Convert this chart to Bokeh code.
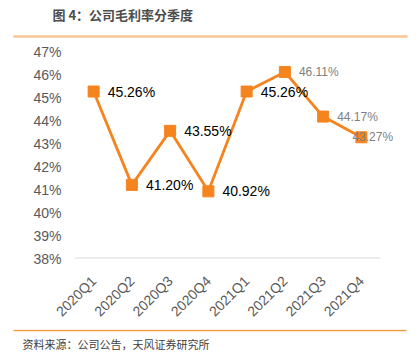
from bokeh.plotting import figure
from bokeh.models import ColumnDataSource, LabelSet, Range1d, FixedTicker, CustomJSTickFormatter
from bokeh.embed import file_html
from bokeh.resources import INLINE
from bokeh.core.properties import value
from math import pi

quarters = ["2020Q1", "2020Q2", "2020Q3", "2020Q4", "2021Q1", "2021Q2", "2021Q3", "2021Q4"]
gross_margin = [45.26, 41.20, 43.55, 40.92, 45.26, 46.11, 44.17, 43.27]
y_ticks = [38, 39, 40, 41, 42, 43, 44, 45, 46, 47]
title_text = "图 4：公司毛利率分季度"
source_text = "资料来源：公司公告，天风证券研究所"

ORANGE = "#F5841F"
NUM_FONT = "Liberation Sans"
CJK_FONT = "Noto Sans CJK SC"
W = 416

# positions of the categories on a numeric scale (one unit per quarter)
xpos = [i + 0.5 for i in range(len(quarters))]

# ---------- header ----------
head = figure(width=W, height=40, x_range=Range1d(0, W), y_range=Range1d(40, 0),
              output_backend="svg", toolbar_location=None, min_border=0,
              x_axis_location=None, y_axis_location=None)
head.grid.visible = False
head.outline_line_color = None
head.text(x=[52], y=[14], text=[title_text], text_font=value(CJK_FONT), text_font_style="bold",
          text_font_size="13px", text_color="#4D4D4D", text_baseline="middle", text_align="left")
head.segment(x0=[13], x1=[407], y0=[36], y1=[36], line_color="#F9C595", line_width=2.5)

# ---------- main chart ----------
p = figure(width=W, height=289, x_range=Range1d(0, 330 / 38.25), y_range=Range1d(38, 47),
           output_backend="svg", toolbar_location=None,
           min_border_left=74, min_border_right=12, min_border_top=11, min_border_bottom=71)
p.outline_line_color = None
p.xgrid.grid_line_color = None
p.ygrid.grid_line_color = None

# baseline of the category axis
p.segment(x0=[0], x1=[len(quarters)], y0=[y_ticks[0]], y1=[y_ticks[0]], line_color="#D9D9D9", line_width=2)

p.line(xpos, gross_margin, line_color=ORANGE, line_width=2.8)
p.scatter(xpos, gross_margin, marker="square", size=11, fill_color=ORANGE, line_color=ORANGE)

# y axis
p.yaxis.ticker = FixedTicker(ticks=y_ticks)
p.yaxis.formatter = CustomJSTickFormatter(code="return tick.toFixed(0) + '%';")
p.yaxis.axis_line_color = None
p.yaxis.major_tick_line_color = None
p.yaxis.minor_tick_line_color = None
p.yaxis.major_tick_out = 0
p.yaxis.major_tick_in = 0
p.yaxis.major_label_text_font = NUM_FONT
p.yaxis.major_label_text_font_size = "14px"
p.yaxis.major_label_text_color = "#595959"
p.yaxis.major_label_standoff = 13

# x axis
p.xaxis.ticker = FixedTicker(ticks=xpos)
p.xaxis.major_label_overrides = {x: q for x, q in zip(xpos, quarters)}
p.xaxis.axis_line_color = None
p.xaxis.major_tick_line_color = None
p.xaxis.minor_tick_line_color = None
p.xaxis.major_tick_out = 0
p.xaxis.major_tick_in = 0
p.xaxis.major_label_orientation = pi / 4
p.xaxis.major_label_text_font = NUM_FONT
p.xaxis.major_label_text_font_size = "14px"
p.xaxis.major_label_text_color = "#595959"
p.xaxis.major_label_standoff = 20

# data labels
label_colors = ["#000000"] * 5 + ["#808080"] * 3
label_sizes = ["14px"] * 5 + ["12px"] * 3
label_dx = [14, 14, 14, 14, 14, 14, 14, -9]
lsrc = ColumnDataSource(dict(x=xpos, y=gross_margin,
                             text=[f"{v:.2f}%" for v in gross_margin],
                             color=label_colors, size=label_sizes, dx=label_dx))
p.add_layout(LabelSet(x="x", y="y", text="text", source=lsrc, x_offset="dx",
                      text_baseline="middle", text_align="left", text_color="color",
                      text_font_size="size", text_font=value(NUM_FONT)))

# ---------- footer ----------
foot = figure(width=W, height=28, x_range=Range1d(0, W), y_range=Range1d(28, 0),
              output_backend="svg", toolbar_location=None, min_border=0,
              x_axis_location=None, y_axis_location=None)
foot.grid.visible = False
foot.outline_line_color = None
foot.segment(x0=[13], x1=[406], y0=[1], y1=[1], line_color="#F39A3C", line_width=1.5)
foot.text(x=[22], y=[14], text=[source_text], text_font=value(CJK_FONT),
          text_font_size="11px", text_color="#404040", text_baseline="middle", text_align="left")

open("out.html", "w").write(file_html((head, p, foot), INLINE))
